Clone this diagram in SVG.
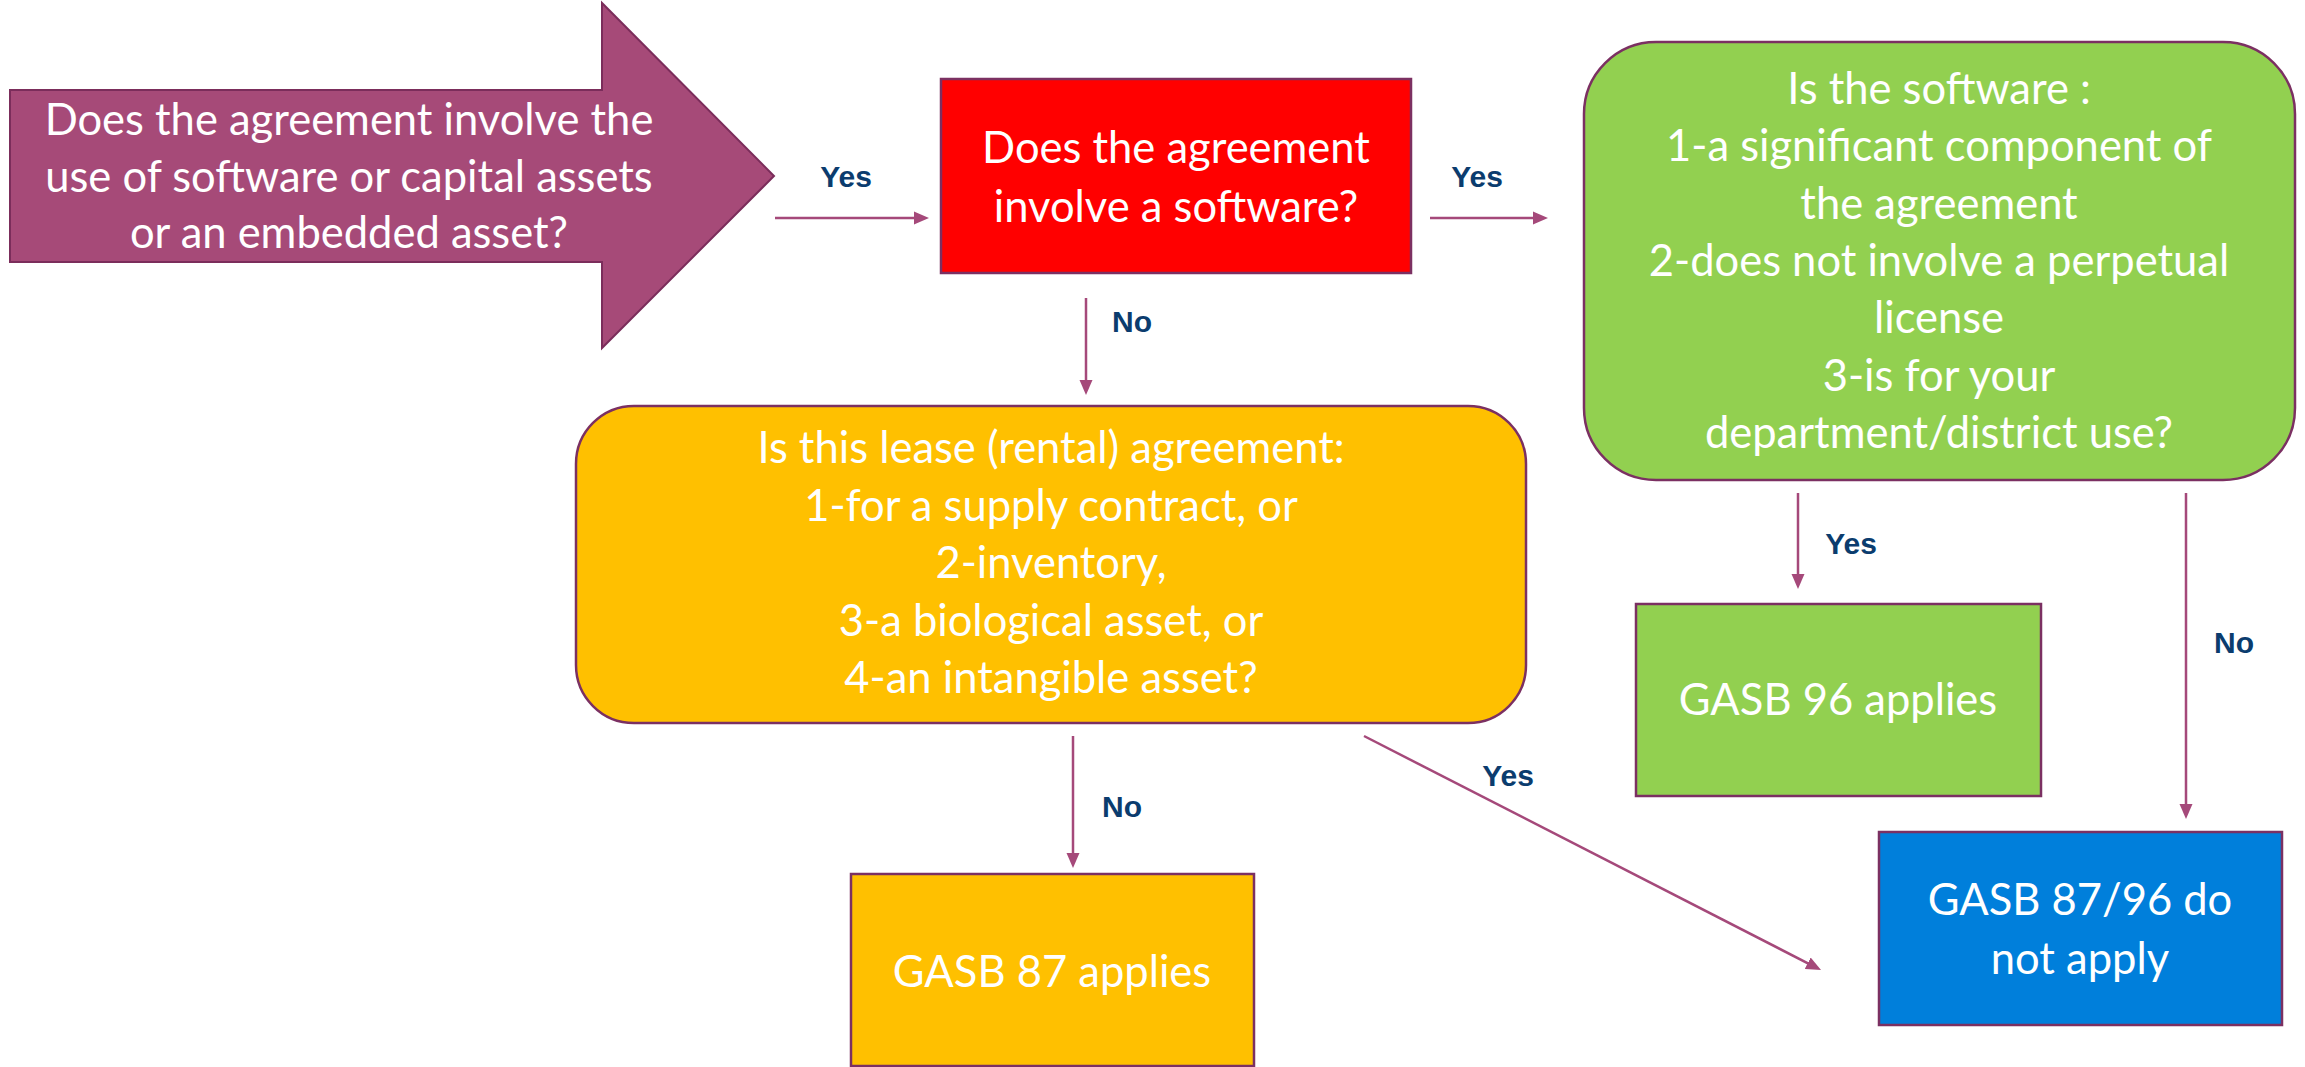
<svg xmlns="http://www.w3.org/2000/svg" width="2305" height="1067" viewBox="0 0 2305 1067">
<style>
.t{font-family:Lato,"Open Sans","Noto Sans",sans-serif;font-size:43.5px;fill:#ffffff;text-anchor:middle}
.lb{font-family:"Liberation Sans",Arial,sans-serif;font-weight:bold;font-size:30px;fill:#0B3C6E;text-anchor:middle}
.box{stroke:#7B3062;stroke-width:2.5}
.c{stroke:#A5497A;stroke-width:2.5;fill:none;marker-end:url(#ah)}
</style>
<defs>
<marker id="ah" markerUnits="userSpaceOnUse" markerWidth="16" markerHeight="14" viewBox="0 0 16 14" refX="9" refY="7" orient="auto">
<path d="M0,0.5 L15,7 L0,13.5 z" fill="#A5497A"/>
</marker>
</defs>
<rect width="2305" height="1067" fill="#ffffff"/>
<g id="start">
<polygon points="10,90 602,90 602,3 774,176 602,348 602,262 10,262" fill="#A64A78" stroke="#7B2D5B" stroke-width="2"/>
<text class="t" x="349" y="135">Does the agreement involve the</text>
<text class="t" x="349" y="191.5">use of software or capital assets</text>
<text class="t" x="349" y="248">or an embedded asset?</text>
</g>
<g id="software-q">
<rect class="box" x="941" y="79" width="470" height="194" fill="#FF0000"/>
<text class="t" x="1176" y="163">Does the agreement</text>
<text class="t" x="1176" y="222">involve a software?</text>
</g>
<g id="software-criteria">
<rect class="box" x="1584" y="42" width="711" height="438" rx="72" fill="#92D050"/>
<text class="t" x="1939" y="104">Is the software :</text>
<text class="t" x="1939" y="161">1-a significant component of</text>
<text class="t" x="1939" y="218.5">the agreement</text>
<text class="t" x="1939" y="276">2-does not involve a perpetual</text>
<text class="t" x="1939" y="333">license</text>
<text class="t" x="1939" y="390.5">3-is for your</text>
<text class="t" x="1939" y="448">department/district use?</text>
</g>
<g id="lease-q">
<rect class="box" x="576" y="406" width="950" height="317" rx="58" fill="#FFC000"/>
<text class="t" x="1051" y="463">Is this lease (rental) agreement:</text>
<text class="t" x="1051" y="521">1-for a supply contract, or</text>
<text class="t" x="1051" y="578">2-inventory,</text>
<text class="t" x="1051" y="636">3-a biological asset, or</text>
<text class="t" x="1051" y="693">4-an intangible asset?</text>
</g>
<g id="gasb96">
<rect class="box" x="1636" y="604" width="405" height="192" fill="#92D050"/>
<text class="t" x="1838" y="715">GASB 96 applies</text>
</g>
<g id="gasb87">
<rect class="box" x="851" y="874" width="403" height="192" fill="#FFC000"/>
<text class="t" x="1052" y="987">GASB 87 applies</text>
</g>
<g id="not-apply">
<rect class="box" x="1879" y="832" width="403" height="193" fill="#007FDB"/>
<text class="t" x="2080" y="915">GASB 87/96 do</text>
<text class="t" x="2080" y="974">not apply</text>
</g>
<g id="connectors">
<line class="c" x1="775" y1="218" x2="923" y2="218"/>
<line class="c" x1="1430" y1="218" x2="1542" y2="218"/>
<line class="c" x1="1086" y1="298" x2="1086" y2="389"/>
<line class="c" x1="1798" y1="493" x2="1798" y2="583"/>
<line class="c" x1="2186" y1="493" x2="2186" y2="813"/>
<line class="c" x1="1073" y1="736" x2="1073" y2="862"/>
<line class="c" x1="1364" y1="736" x2="1815.7" y2="967.3"/>
<text class="lb" x="846" y="187">Yes</text>
<text class="lb" x="1477" y="187">Yes</text>
<text class="lb" x="1132" y="332">No</text>
<text class="lb" x="1851" y="554">Yes</text>
<text class="lb" x="2234" y="653">No</text>
<text class="lb" x="1122" y="817">No</text>
<text class="lb" x="1508" y="786">Yes</text>
</g>
</svg>
